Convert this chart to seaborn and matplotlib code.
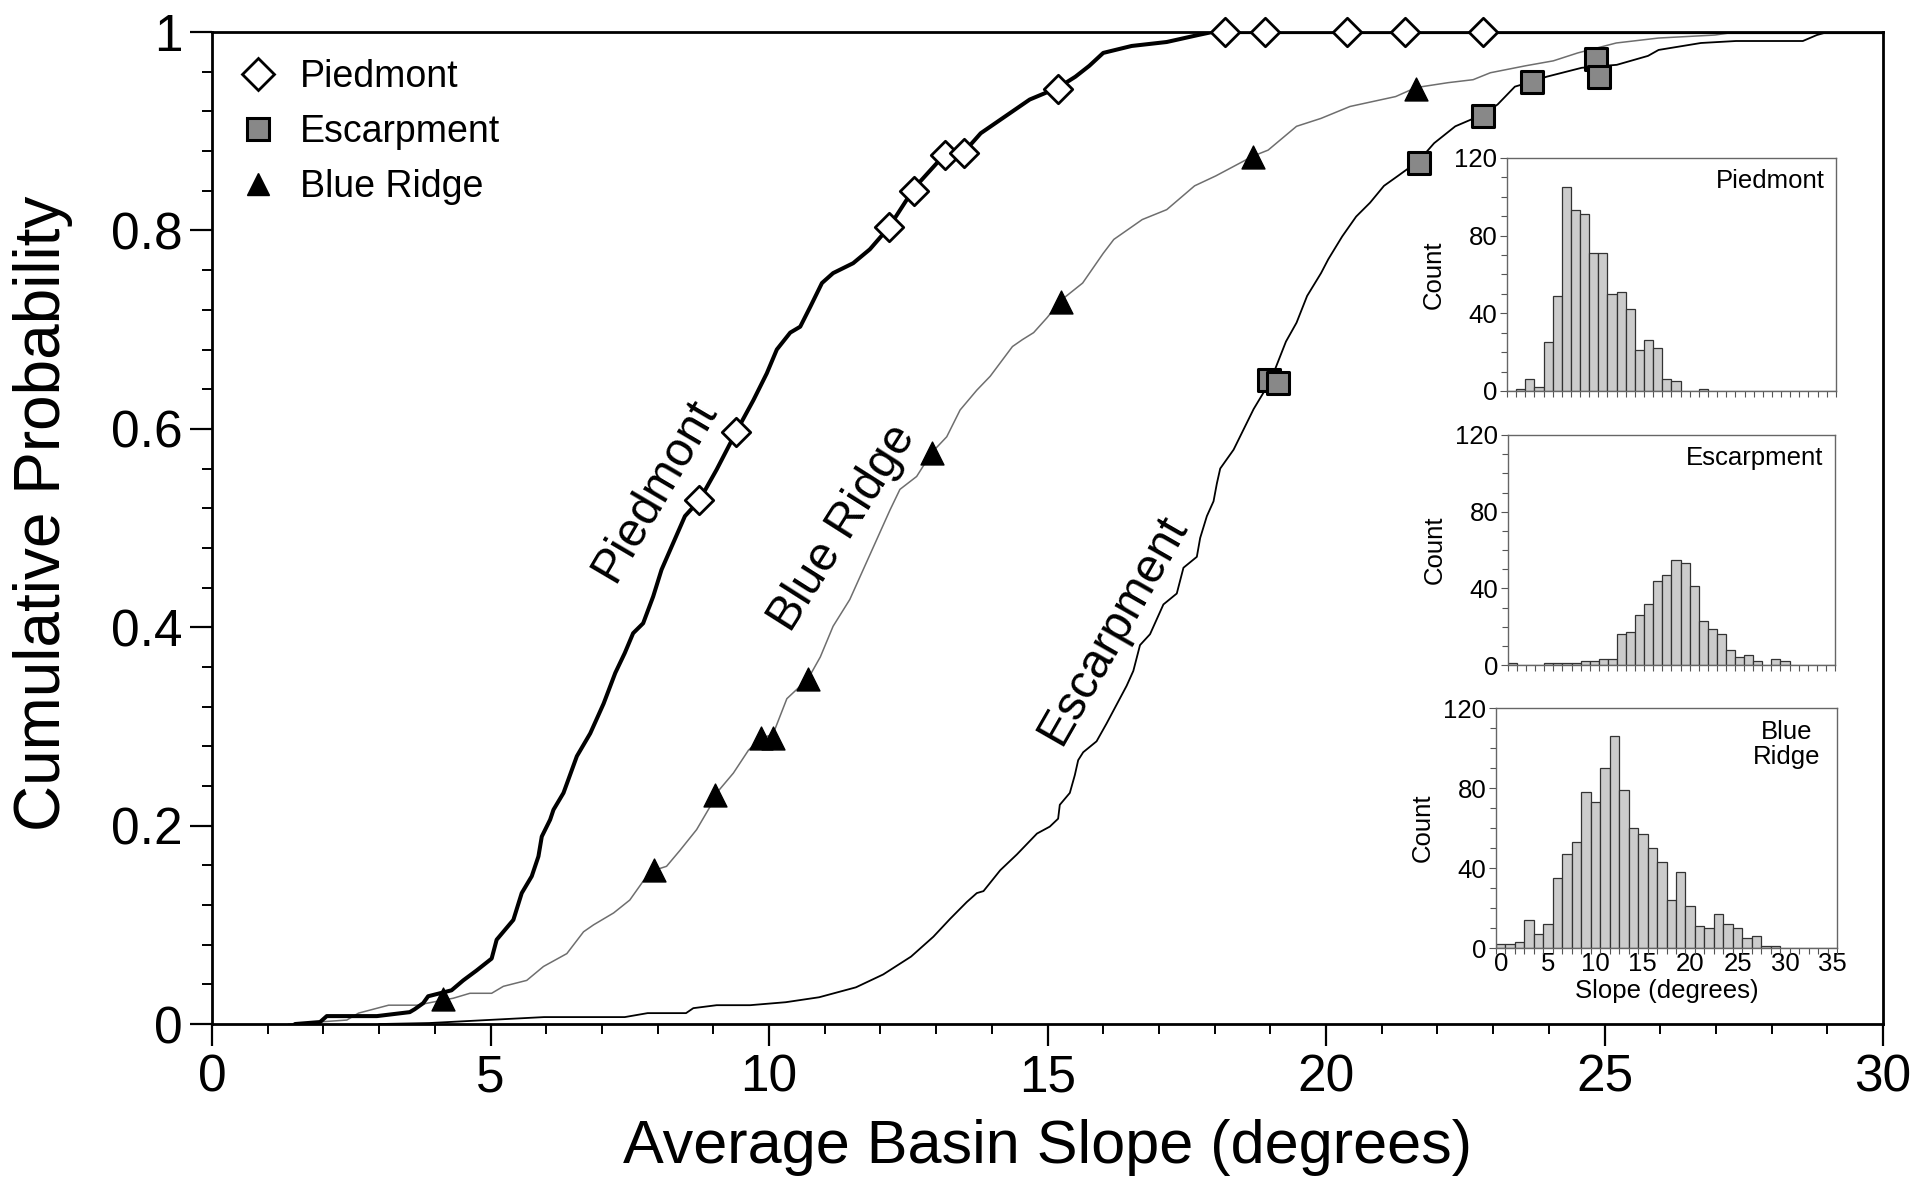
import numpy as np
import pandas as pd
import seaborn as sns
import matplotlib.pyplot as plt
from matplotlib.lines import Line2D
from matplotlib.ticker import MultipleLocator, FixedLocator

sns.set_style('ticks')
plt.rcParams['font.family'] = ['Liberation Sans', 'DejaVu Sans']
plt.rcParams.update({'text.color': 'black', 'axes.labelcolor': 'black',
                     'xtick.color': 'black', 'ytick.color': 'black'})

# cumulative curves (slope in degrees, probability)
piedmont_x = [1.49, 1.94, 2.06, 2.96, 3.55, 3.64, 3.79, 3.88, 4.30, 4.51,
              4.75, 5.02, 5.11, 5.23, 5.41, 5.56, 5.74, 5.86, 5.92, 6.07,
              6.13, 6.31, 6.55, 6.79, 7.03, 7.24, 7.41, 7.56, 7.74, 7.92,
              8.07, 8.28, 8.49, 8.75, 9.06, 9.41, 9.72, 9.96, 10.14, 10.38,
              10.56, 10.74, 10.95, 11.15, 11.51, 11.81, 12.15, 12.61, 13.16, 13.50,
              13.80, 14.24, 14.68, 15.19, 15.50, 15.75, 16.00, 16.51, 17.14, 17.70,
              17.95, 30.0]
piedmont_p = [0.0, 0.002, 0.008, 0.008, 0.012, 0.015, 0.021, 0.028, 0.034, 0.044,
              0.054, 0.066, 0.085, 0.093, 0.105, 0.132, 0.149, 0.169, 0.189, 0.206,
              0.216, 0.233, 0.270, 0.293, 0.323, 0.354, 0.374, 0.394, 0.404, 0.431,
              0.458, 0.485, 0.512, 0.528, 0.559, 0.597, 0.629, 0.656, 0.680, 0.697,
              0.703, 0.723, 0.747, 0.757, 0.767, 0.781, 0.803, 0.843, 0.877, 0.879,
              0.898, 0.915, 0.932, 0.944, 0.955, 0.966, 0.979, 0.986, 0.990, 0.997,
              1.0, 1.0]

blue_x = [1.37, 2.42, 2.63, 2.90, 3.17, 3.68, 4.14, 4.33, 4.63, 5.02,
          5.23, 5.65, 5.95, 6.37, 6.67, 6.85, 7.21, 7.50, 7.74, 7.94,
          8.16, 8.40, 8.70, 8.94, 9.03, 9.36, 9.63, 9.85, 10.07, 10.32,
          10.70, 10.92, 11.15, 11.45, 11.69, 11.93, 12.17, 12.35, 12.65, 12.92,
          13.19, 13.43, 13.73, 13.97, 14.37, 14.55, 14.75, 14.99, 15.25, 15.63,
          16.00, 16.19, 16.70, 17.14, 17.64, 18.02, 18.69, 18.96, 19.47, 19.91,
          20.43, 21.25, 21.61, 22.19, 22.64, 22.95, 23.58, 24.08, 24.52, 25.21,
          25.97, 26.98, 27.35, 30.0]
blue_p = [0.0, 0.004, 0.011, 0.015, 0.019, 0.019, 0.024, 0.026, 0.031, 0.031,
          0.038, 0.044, 0.058, 0.071, 0.093, 0.100, 0.112, 0.125, 0.144, 0.155,
          0.159, 0.175, 0.196, 0.219, 0.231, 0.253, 0.276, 0.288, 0.292, 0.328,
          0.348, 0.370, 0.401, 0.428, 0.458, 0.488, 0.518, 0.539, 0.552, 0.576,
          0.592, 0.619, 0.639, 0.653, 0.683, 0.690, 0.697, 0.712, 0.730, 0.747,
          0.777, 0.791, 0.811, 0.821, 0.845, 0.855, 0.875, 0.881, 0.905, 0.913,
          0.925, 0.935, 0.944, 0.949, 0.952, 0.959, 0.966, 0.971, 0.979, 0.989,
          0.994, 0.997, 1.0, 1.0]

escarp_x = [3.00, 3.90, 5.96, 7.41, 7.82, 8.51, 8.64, 9.06, 9.66, 10.30,
            10.90, 11.56, 12.05, 12.55, 12.95, 13.25, 13.55, 13.73, 13.85, 14.15,
            14.45, 14.81, 15.04, 15.19, 15.22, 15.40, 15.49, 15.55, 15.64, 15.88,
            16.06, 16.24, 16.42, 16.54, 16.66, 16.84, 17.08, 17.32, 17.44, 17.68,
            17.74, 17.86, 17.98, 18.04, 18.10, 18.34, 18.70, 19.00, 19.28, 19.47,
            19.66, 19.91, 20.04, 20.29, 20.54, 20.79, 21.04, 21.29, 21.66, 21.94,
            22.32, 22.82, 23.08, 23.39, 23.69, 23.96, 24.59, 25.22, 25.78, 25.97,
            26.73, 27.36, 28.56, 28.81, 29.00, 30.0]
escarp_p = [0.0, 0.001, 0.007, 0.007, 0.011, 0.011, 0.016, 0.019, 0.019, 0.022,
            0.027, 0.037, 0.050, 0.068, 0.088, 0.106, 0.123, 0.132, 0.134, 0.155,
            0.171, 0.192, 0.199, 0.207, 0.221, 0.233, 0.251, 0.266, 0.274, 0.285,
            0.303, 0.322, 0.341, 0.356, 0.382, 0.393, 0.423, 0.434, 0.460, 0.471,
            0.490, 0.512, 0.527, 0.545, 0.560, 0.579, 0.620, 0.648, 0.688, 0.707,
            0.734, 0.757, 0.771, 0.794, 0.814, 0.828, 0.845, 0.855, 0.870, 0.888,
            0.905, 0.917, 0.927, 0.945, 0.950, 0.955, 0.964, 0.967, 0.976, 0.982,
            0.989, 0.991, 0.991, 0.997, 1.0, 1.0]

# highlighted basins
piedmont_mx = [8.75, 9.41, 12.15, 12.61, 13.16, 13.50, 15.19, 18.18, 18.90, 20.37, 21.42, 22.82]
piedmont_my = [0.528, 0.597, 0.803, 0.840, 0.876, 0.878, 0.943, 1.0, 1.0, 1.0, 1.0, 1.0]
escarp_mx = [18.98, 19.13, 21.66, 22.82, 23.69, 24.84, 24.90]
escarp_my = [0.649, 0.646, 0.868, 0.915, 0.950, 0.973, 0.955]
blue_mx = [4.14, 7.94, 9.03, 9.85, 10.07, 10.70, 12.92, 15.25, 18.69, 21.61]
blue_my = [0.025, 0.155, 0.231, 0.288, 0.288, 0.348, 0.576, 0.728, 0.874, 0.943]

# histograms: 1-degree bins centred on the integers
piedmont_bins = [1, 2, 3, 4, 5, 6, 7, 8, 9, 10, 11, 12, 13, 14, 15, 16, 17, 18, 21]
piedmont_counts = [1, 6, 2, 25, 49, 105, 93, 91, 71, 71, 50, 51, 42, 21, 26, 22, 6, 5, 1]
escarp_bins = [0, 4, 5, 6, 7, 8, 9, 10, 11, 12, 13, 14, 15, 16, 17, 18, 19, 20,
               21, 22, 23, 24, 25, 26, 27, 29, 30]
escarp_counts = [1, 1, 1, 1, 1, 2, 2, 3, 3, 16, 17, 26, 32, 44, 47, 55, 53, 41,
                 23, 19, 16, 8, 4, 5, 2, 3, 2]
blue_bins = list(range(0, 30))
blue_counts = [2, 2, 3, 14, 7, 12, 35, 47, 53, 78, 73, 90, 106, 79, 60, 57, 50, 43,
               24, 38, 21, 11, 10, 17, 12, 10, 5, 6, 1, 1]

fig = plt.figure(figsize=(19.17, 11.97), dpi=100)
ax = fig.add_axes([0.1106, 0.1445, 0.8717, 0.8287])

sns.lineplot(x=blue_x, y=blue_p, ax=ax, color='#6e6e6e', lw=1.1, sort=False, estimator=None)
sns.lineplot(x=escarp_x, y=escarp_p, ax=ax, color='black', lw=1.3, sort=False, estimator=None)
sns.lineplot(x=piedmont_x, y=piedmont_p, ax=ax, color='black', lw=2.9, sort=False, estimator=None)

sns.scatterplot(x=piedmont_mx, y=piedmont_my, ax=ax, marker='D', s=14.5**2, color='white',
                edgecolor='black', linewidth=2, zorder=5, clip_on=False)
sns.scatterplot(x=escarp_mx, y=escarp_my, ax=ax, marker='s', s=15.5**2, color='#888888',
                edgecolor='black', linewidth=2.2, zorder=5, clip_on=False)
sns.scatterplot(x=blue_mx, y=blue_my, ax=ax, marker='^', s=16.5**2, color='black',
                edgecolor='black', linewidth=1, zorder=5, clip_on=False)

ax.set_xlim(0, 30)
ax.set_ylim(0, 1)
ax.xaxis.set_major_locator(MultipleLocator(5))
ax.xaxis.set_minor_locator(MultipleLocator(1))
ax.yaxis.set_major_locator(FixedLocator([0, 0.2, 0.4, 0.6, 0.8, 1.0]))
ax.yaxis.set_minor_locator(MultipleLocator(0.04))
ax.set_yticklabels(['0', '0.2', '0.4', '0.6', '0.8', '1'])
ax.tick_params(which='major', direction='out', length=16, width=1.6, labelsize=37, pad=5, color='black')
ax.tick_params(which='minor', direction='out', length=7.5, width=1.4, color='black')
for sp in ax.spines.values():
    sp.set_linewidth(2)
    sp.set_color('black')
ax.set_xlabel('Average Basin Slope (degrees)', fontsize=44, labelpad=12)
ax.set_ylabel('Cumulative Probability', fontsize=46)
ax.yaxis.set_label_coords(-0.083, 0.515)

# curve labels
ax.text(7.95, 0.538, 'Piedmont', fontsize=34.5, rotation=59.5, rotation_mode='anchor',
        ha='center', va='center')
ax.text(11.32, 0.500, 'Blue Ridge', fontsize=34.5, rotation=57.6, rotation_mode='anchor',
        ha='center', va='center')
ax.text(16.18, 0.397, 'Escarpment', fontsize=34.5, rotation=60.2, rotation_mode='anchor',
        ha='center', va='center')

handles = [
    Line2D([], [], ls='', marker='D', ms=16, mfc='white', mec='black', mew=2),
    Line2D([], [], ls='', marker='s', ms=15.5, mfc='#888888', mec='black', mew=2.2),
    Line2D([], [], ls='', marker='^', ms=16.5, mfc='black', mec='black', mew=1),
]
ax.legend(handles, ['Piedmont', 'Escarpment', 'Blue Ridge'], loc='upper left', frameon=False,
          fontsize=27, handlelength=1.0, handletextpad=0.62, borderpad=0.4,
          borderaxespad=0.33, labelspacing=0.5)

# inset histograms
insets = [
    ([0.7861, 0.6734, 0.1716, 0.1947], piedmont_bins, piedmont_counts, 'Piedmont'),
    ([0.7866, 0.4444, 0.1706, 0.1922], escarp_bins, escarp_counts, 'Escarpment'),
    ([0.7804, 0.2080, 0.1779, 0.2005], blue_bins, blue_counts, 'Blue\nRidge'),
]
for i, (pos, bins, counts, name) in enumerate(insets):
    axi = fig.add_axes(pos)
    df = pd.DataFrame({'slope': bins, 'n': counts})
    sns.histplot(data=df, x='slope', weights='n', binwidth=1, binrange=(-0.5, 35.5), ax=axi,
                 color='#cccccc', edgecolor='#333333', linewidth=0.9, alpha=1)
    axi.set_xlim(-0.5, 35.5)
    axi.set_ylim(0, 120)
    axi.set_yticks([0, 40, 80, 120])
    axi.yaxis.set_minor_locator(MultipleLocator(10))
    axi.xaxis.set_minor_locator(FixedLocator(np.arange(-0.5, 36, 1)))
    axi.set_xticks(range(0, 36, 5))
    axi.tick_params(which='major', axis='y', direction='out', length=5, width=0.8,
                    color='#555555', labelcolor='black', labelsize=18.5, pad=2)
    axi.tick_params(which='major', axis='x', length=0, labelsize=18.5, pad=3)
    axi.tick_params(which='minor', direction='out', length=4, width=0.8, color='#555555')
    for sp in axi.spines.values():
        sp.set_linewidth(1)
        sp.set_color('#666666')
    axi.set_ylabel('Count', fontsize=18.5, labelpad=6)
    if i < 2:
        axi.set_xticklabels([])
        axi.set_xlabel('')
        axi.text(0.965, 0.9, name, transform=axi.transAxes, fontsize=18.5,
                 ha='right', va='center')
    else:
        axi.set_xlabel('Slope (degrees)', fontsize=18.5, labelpad=2)
        axi.text(0.853, 0.85, name, transform=axi.transAxes, fontsize=18.5,
                 ha='center', va='center', multialignment='center', linespacing=1.05)

fig.savefig('out.png', dpi=100)
